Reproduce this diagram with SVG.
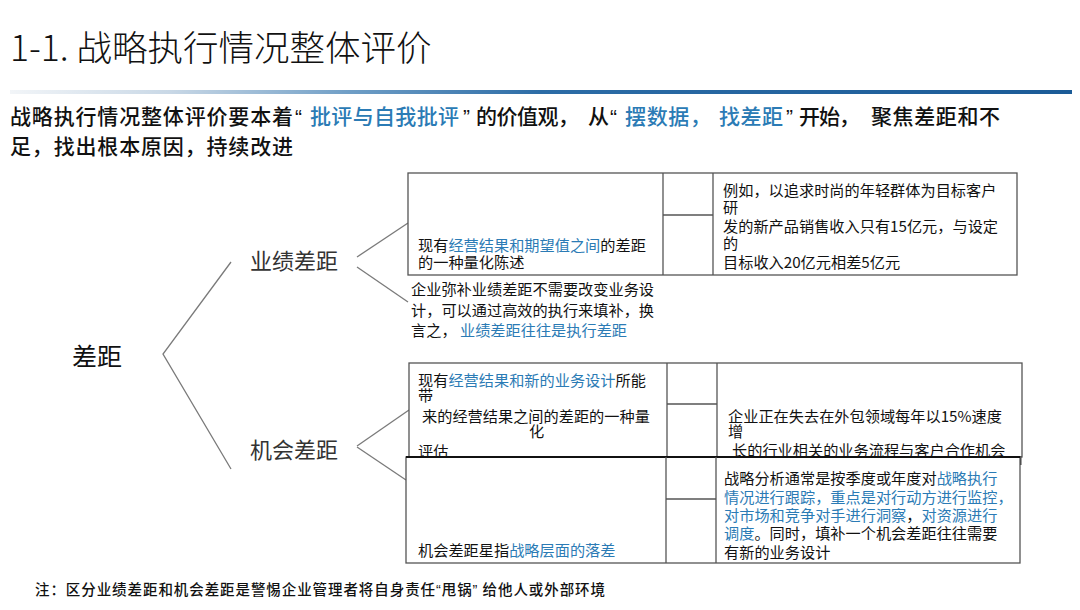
<svg xmlns="http://www.w3.org/2000/svg" width="1080" height="610" viewBox="0 0 1080 610">
<style>
.t{font-family:"Noto Sans CJK SC","Liberation Sans",sans-serif;fill:#111}
.q{font-family:"Liberation Sans",sans-serif}
.b{fill:#2b7bb5}
.s{font-size:15.2px}
.box{fill:#fff;stroke:#555;stroke-width:1.3}
.ln{stroke:#555;stroke-width:1.3;fill:none}
.tree{stroke:#7a7a7a;stroke-width:1.3;fill:none}
.lab{font-size:22px;fill:#333}
</style>
<defs>
<linearGradient id="g" x1="0" y1="0" x2="1" y2="0">
<stop offset="0" stop-color="#f2f5f8"/>
<stop offset="0.15" stop-color="#c9d8e6"/>
<stop offset="0.32" stop-color="#6f9ec6"/>
<stop offset="0.5" stop-color="#2c6ca6"/>
<stop offset="1" stop-color="#1b5b97"/>
</linearGradient>
</defs>
<rect width="1080" height="610" fill="#fff"/>
<g id="title">
<text class="t" x="10" y="61" font-size="35.5" font-weight="300" fill="#1a1a1a">1-1. 战略执行情况整体评价</text>
<rect x="10" y="90" width="1062" height="4" fill="url(#g)"/>
</g>
<g id="intro" class="t" font-size="21" font-weight="500">
<text y="124"><tspan x="10" textLength="283" lengthAdjust="spacing">战略执行情况整体评价要本着</tspan><tspan x="295" class="q">“</tspan><tspan x="310" class="b" textLength="149" lengthAdjust="spacing">批评与自我批评</tspan><tspan x="463" class="q">”</tspan><tspan x="476" textLength="103" lengthAdjust="spacing">的价值观，</tspan><tspan x="588">从</tspan><tspan x="610" class="q">“</tspan><tspan x="625" class="b" textLength="86" lengthAdjust="spacing">摆数据，</tspan><tspan x="719" class="b" textLength="64" lengthAdjust="spacing">找差距</tspan><tspan x="786" class="q">”</tspan><tspan x="799" textLength="61" lengthAdjust="spacing">开始，</tspan><tspan x="871" textLength="129" lengthAdjust="spacing">聚焦差距和不</tspan></text>
<text x="10" y="154" textLength="283" lengthAdjust="spacing">足，找出根本原因，持续改进</text>
</g>
<g id="connectors">
<polyline class="tree" points="231,262 163,354 231,469"/>
<line class="tree" x1="357" y1="257" x2="408" y2="223"/>
<line class="tree" x1="357" y1="267" x2="408" y2="302"/>
<line class="tree" x1="357" y1="446" x2="409" y2="410"/>
<line class="tree" x1="357" y1="447" x2="406" y2="480"/>
</g>
<g id="root"><text class="t" x="72" y="366" font-size="25" fill="#333">差距</text></g>
<g id="perf"><text class="t lab" x="250" y="269">业绩差距</text></g>
<g id="opp"><text class="t lab" x="250" y="458">机会差距</text></g>
<g id="box1" class="t s">
<rect class="box" x="408" y="173" width="609" height="102"/>
<line class="ln" x1="663" y1="173" x2="663" y2="275"/>
<line class="ln" x1="713" y1="173" x2="713" y2="275"/>
<line class="ln" x1="663" y1="215" x2="713" y2="215"/>
<text x="418" y="251">现有<tspan class="b">经营结果和期望值之间</tspan>的差距</text>
<text x="418" y="268">的一种量化陈述</text>
<text x="723" y="196">例如，以追求时尚的年轻群体为目标客户</text>
<text x="723" y="213">研</text>
<text x="723" y="232">发的新产品销售收入只有15亿元，与设定</text>
<text x="723" y="249">的</text>
<text x="723" y="268">目标收入20亿元相差5亿元</text>
</g>
<g id="note1" class="t s">
<text x="411" y="295">企业弥补业绩差距不需要改变业务设</text>
<text x="411" y="316">计，可以通过高效的执行来填补，换</text>
<text x="411" y="336">言之，<tspan class="b"> 业绩差距往往是执行差距</tspan></text>
</g>
<g id="box2" class="t s">
<rect class="box" x="409" y="363" width="613" height="94"/>
<line class="ln" x1="667" y1="363" x2="667" y2="457"/>
<line class="ln" x1="717" y1="363" x2="717" y2="457"/>
<line class="ln" x1="667" y1="404" x2="717" y2="404"/>
<rect x="1019" y="456" width="2.5" height="9" fill="#444"/>
<text x="418" y="386">现有<tspan class="b">经营结果和新的业务设计</tspan>所能</text>
<text x="418" y="401">带</text>
<text x="422" y="422">来的经营结果之间的差距的一种量</text>
<text x="529" y="437">化</text>
<text x="418" y="457">评估</text>
<text x="728" y="422">企业正在失去在外包领域每年以15%速度</text>
<text x="728" y="437">增</text>
<text x="732" y="456">长的行业相关的业务流程与客户合作机会</text>
</g>
<g id="box3" class="t s">
<rect class="box" x="406" y="457" width="614" height="106"/>
<line x1="406" y1="457" x2="1020" y2="457" stroke="#111" stroke-width="1.8"/>
<line class="ln" x1="666" y1="457" x2="666" y2="563"/>
<line class="ln" x1="716" y1="457" x2="716" y2="563"/>
<line class="ln" x1="666" y1="499" x2="716" y2="499"/>
<text x="418" y="556">机会差距星指<tspan class="b">战略层面的落差</tspan></text>
<text x="724" y="484">战略分析通常是按季度或年度对<tspan class="b">战略执行</tspan></text>
<text x="724" y="503" class="b">情况进行跟踪，重点是对行动方进行监控，</text>
<text x="724" y="521"><tspan class="b">对市场和竞争对手进行洞察</tspan>，<tspan class="b">对资源进行</tspan></text>
<text x="724" y="539"><tspan class="b">调度</tspan>。同时，填补一个机会差距往往需要</text>
<text x="724" y="558">有新的业务设计</text>
</g>
<g id="footer">
<text class="t" x="35" y="595" font-size="14.5" font-weight="500" textLength="570" lengthAdjust="spacing">注：区分业绩差距和机会差距是警惕企业管理者将自身责任<tspan class="q">“</tspan>甩锅<tspan class="q">”</tspan> 给他人或外部环境</text>
</g>
</svg>
